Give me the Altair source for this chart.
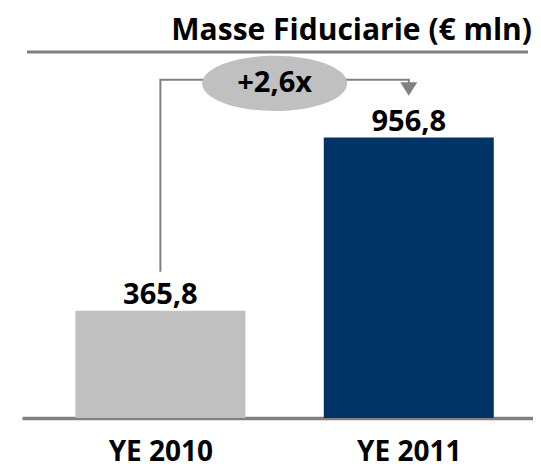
import altair as alt
import pandas as pd

categories = ["YE 2010", "YE 2011"]
values = [365.8, 956.8]
value_labels = ["365,8", "956,8"]
bar_colors = ["#c0c0c0", "#003366"]
title_text = "Masse Fiduciarie (€ mln)"
growth_label = "+2,6x"

# connector annotation (x = category index, y = € mln)
connector_x = [0, 0, 1, 1]
connector_y = [499, 1153, 1153, 1140]
connector_order = [0, 1, 2, 3]
arrow_x = [1]
arrow_y = [1122]
badge_x = [0.46]
badge_y = [1141]

x_domain = [-0.537, 1.480]
y_domain = [0, 1248]

FONT = "Open Sans"
GRAY_LINE = "#808080"

bars_df = pd.DataFrame({
    "idx": list(range(len(categories))),
    "category": categories,
    "value": values,
    "label": value_labels,
    "color": bar_colors,
})
conn_df = pd.DataFrame({"x": connector_x, "y": connector_y, "o": connector_order})
arrow_df = pd.DataFrame({"x": arrow_x, "y": arrow_y})
badge_df = pd.DataFrame({"x": badge_x, "y": badge_y, "t": [growth_label]})
frame_df = pd.DataFrame({"x": [x_domain[0]], "x2": [x_domain[1]], "y": [y_domain[1]]})

label_expr = "[" + ",".join("'" + c + "'" for c in categories) + "][datum.value]"

xs = alt.Scale(domain=x_domain, nice=False, zero=False)
ys = alt.Scale(domain=y_domain, nice=False)

x_axis = alt.Axis(
    values=list(range(len(categories))), labelExpr=label_expr, title=None,
    grid=False, ticks=False, domainColor=GRAY_LINE, domainWidth=3.3,
    labelFont=FONT, labelFontSize=28, labelFontWeight="bold", labelColor="black",
    labelPadding=20,
)

bars = alt.Chart(bars_df).mark_bar(width=170).encode(
    x=alt.X("idx:Q", scale=xs, axis=x_axis),
    y=alt.Y("value:Q", scale=ys, axis=None),
    color=alt.Color("color:N", scale=None),
)

bar_text = alt.Chart(bars_df).mark_text(
    font=FONT, fontSize=29, fontWeight="bold", color="black", baseline="alphabetic", dy=-6.5
).encode(
    x=alt.X("idx:Q"),
    y=alt.Y("value:Q"),
    text="label:N",
)

top_rule = alt.Chart(frame_df).mark_rule(color=GRAY_LINE, strokeWidth=3.2).encode(
    x=alt.X("x:Q"), x2="x2:Q", y=alt.Y("y:Q")
)

connector = alt.Chart(conn_df).mark_line(color=GRAY_LINE, strokeWidth=2).encode(
    x=alt.X("x:Q"), y=alt.Y("y:Q"), order="o:Q"
)

arrow = alt.Chart(arrow_df).mark_point(
    shape="M-1,-0.8L1,-0.8L0,0.8Z", size=289, filled=True, color=GRAY_LINE, opacity=1
).encode(x=alt.X("x:Q"), y=alt.Y("y:Q"))

badge = alt.Chart(badge_df).mark_point(
    shape="M-1,0A1,0.38 0 1,1 1,0A1,0.38 0 1,1 -1,0Z", size=21025, filled=True,
    color="#c0c0c0", opacity=1
).encode(x=alt.X("x:Q"), y=alt.Y("y:Q"))

badge_text = alt.Chart(badge_df).mark_text(
    font=FONT, fontSize=29, fontWeight="bold", color="black", baseline="middle"
).encode(x=alt.X("x:Q"), y=alt.Y("y:Q"), text="t:N")

chart = alt.layer(bars, top_rule, connector, arrow, badge, badge_text, bar_text).properties(
    width=511, height=366,
    title=alt.TitleParams(
        title_text, anchor="end", font=FONT, fontSize=30,
        fontWeight="bold", color="black", offset=4, dx=-1,
    ),
    autosize=alt.AutoSizeParams(type="none"),
    padding={"left": 14, "top": 44, "right": 0, "bottom": 49},
    background="white",
).configure_view(stroke=None)

chart.save("out.html", embed_options={"renderer": "svg", "actions": False})
